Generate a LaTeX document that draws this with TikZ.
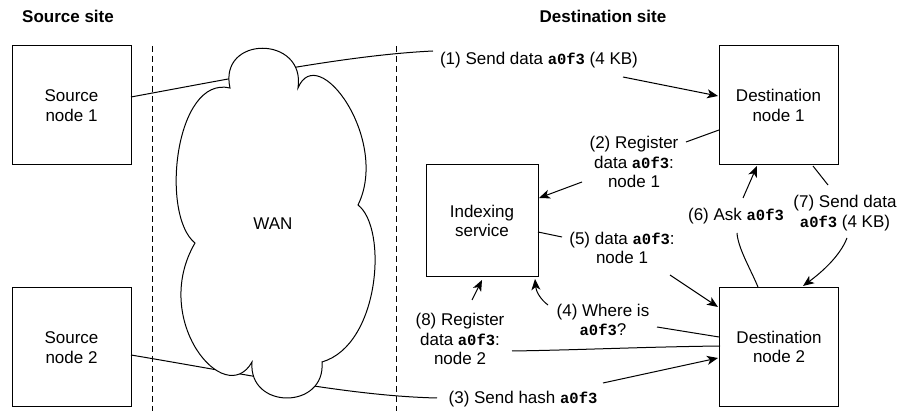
\documentclass[tikz,border=0pt]{standalone}
\usepackage{fontspec}
\setmainfont{Liberation Sans}
\newfontfamily\monob{Liberation Mono}
\usetikzlibrary{arrows.meta}
\newcommand{\hx}[1]{{\fontsize{15.5}{19.5}\selectfont\monob\bfseries #1}}
\begin{document}
\begin{tikzpicture}[x=1pt,y=-1pt,
  every node/.style={font=\fontsize{17}{19.5}\selectfont},
  box/.style={draw,line width=1pt,minimum width=119pt,minimum height=119pt,align=center,inner sep=0pt},
  lab/.style={align=center,inner sep=0pt},
  conn/.style={line width=1pt},
  arr/.style={line width=1pt,-{Stealth[length=11pt,width=9pt,inset=3pt]}},
  sep/.style={line width=0.9pt,dash pattern=on 6pt off 4pt}]
\useasboundingbox (0,0) rectangle (898,411);

% titles
\node[lab,font=\fontsize{17}{19.5}\selectfont\bfseries] (tsrc) at (68,16) {Source site};
\node[lab,font=\fontsize{17}{19.5}\selectfont\bfseries] (tdst) at (603,16) {Destination site};

% separators
\coordinate (sepAtop) at (152,46);
\coordinate (sepAbot) at (152,411);
\coordinate (sepBtop) at (396,46);
\coordinate (sepBbot) at (396,411);
\draw[sep] (sepAtop) -- (sepAbot);
\draw[sep] (sepBtop) -- (sepBbot);

% boxes
\node[box] (s1) at (71.5,105.5) {Source\\node 1};
\node[box] (s2) at (71.5,347.5) {Source\\node 2};
\node[box] (d1) at (778.5,105.5) {Destination\\node 1};
\node[box] (d2) at (779,347) {Destination\\node 2};
\node[box,minimum width=112pt,minimum height=112pt] (idx) at (482,221) {Indexing\\service};

% labels
\node[lab] (l1) at (539,60) {(1) Send data \hx{a0f3} (4 KB)};
\node[lab] (l2) at (634,162) {(2) Register\\data \hx{a0f3}:\\node 1};
\node[lab] (l3) at (523,399) {(3) Send hash \hx{a0f3}};
\node[lab] (l4) at (603,320) {(4) Where is\\\hx{a0f3}?};
\node[lab] (l5) at (622,248) {(5) data \hx{a0f3}:\\node 1};
\node[lab] (l6) at (736,216) {(6) Ask \hx{a0f3}};
\node[lab] (l7) at (845,213) {(7) Send data\\\hx{a0f3} (4 KB)};
\node[lab] (l8) at (460,339) {(8) Register\\data \hx{a0f3}:\\node 2};

% connector end points
\coordinate (c1a) at (131,97);   \coordinate (c1b) at (433,51);
\coordinate (c1c) at (623,77);   \coordinate (c1d) at (718,96);
\coordinate (c2a) at (719,130);  \coordinate (c2b) at (686,142);
\coordinate (c2c) at (582,182);  \coordinate (c2d) at (539,198);
\coordinate (c3a) at (131,355);  \coordinate (c3b) at (437,398);
\coordinate (c3c) at (603,383);  \coordinate (c3d) at (718,358);
\coordinate (c4a) at (719,337);  \coordinate (c4b) at (657,327);
\coordinate (c4c) at (548,305);  \coordinate (c4d) at (535,279);
\coordinate (c5a) at (538,232);  \coordinate (c5b) at (562,237);
\coordinate (c5c) at (670,275);  \coordinate (c5d) at (718,307);
\coordinate (c6a) at (758,287);  \coordinate (c6b) at (737,233);
\coordinate (c6c) at (743,198);  \coordinate (c6d) at (757,166);
\coordinate (c7a) at (813,166);  \coordinate (c7b) at (828,185);
\coordinate (c7c) at (847,238);  \coordinate (c7d) at (803,286);
\coordinate (c8a) at (720,346);  \coordinate (c8b) at (512,351);
\coordinate (c8c) at (472,300);  \coordinate (c8d) at (482,280);

% WAN-crossing lines (behind cloud)
\draw[conn] (c1a) .. controls (250,75) and (350,55) .. (c1b);
\draw[conn] (c3a) .. controls (250,375) and (350,396) .. (c3b);

% cloud
\draw[line width=1pt,fill=white]
  (230,88) .. controls (218,35) and (306,35) .. (298,88)
  .. controls (318,40) and (390,140) .. (358,205)
  .. controls (388,228) and (380,345) .. (322,362)
  .. controls (326,410) and (248,410) .. (252,362)
  .. controls (225,410) and (150,320) .. (195,243)
  .. controls (160,215) and (175,75) .. (230,88) -- cycle;
\node[lab] (wan) at (273,224) {WAN};

% connectors
\draw[arr] (c1c) -- (c1d);
\draw[conn] (c2a) -- (c2b);
\draw[arr] (c2c) -- (c2d);
\draw[arr] (c3c) -- (c3d);
\draw[conn] (c4a) -- (c4b);
\draw[arr] (c4c) .. controls (540,299) and (536,291) .. (c4d);
\draw[conn] (c5a) -- (c5b);
\draw[arr] (c5c) -- (c5d);
\draw[conn] (c6a) .. controls (750,268) and (738,248) .. (c6b);
\draw[arr] (c6c) -- (c6d);
\draw[conn] (c7a) -- (c7b);
\draw[arr] (c7c) .. controls (840,256) and (822,272) .. (c7d);
\draw[conn] (c8a) .. controls (640,347) and (580,350) .. (c8b);
\draw[arr] (c8c) -- (c8d);
\end{tikzpicture}
\end{document}
